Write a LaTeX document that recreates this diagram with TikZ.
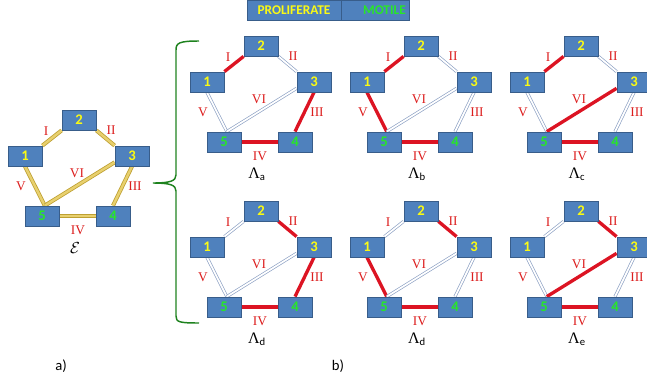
\documentclass[tikz,border=0pt]{standalone}
\usepackage{fontspec}
\setmainfont{Liberation Serif}
\setsansfont{Carlito}
\usetikzlibrary{positioning,backgrounds}
\definecolor{boxblue}{RGB}{79,129,189}
\definecolor{boxedge}{RGB}{56,93,138}
\definecolor{numyellow}{RGB}{250,250,20}
\definecolor{numgreen}{RGB}{40,230,40}
\definecolor{linkred}{RGB}{220,20,35}
\definecolor{linkgray}{RGB}{140,160,195}
\definecolor{goldedge}{RGB}{190,160,50}
\definecolor{goldfill}{RGB}{232,208,110}
\definecolor{numred}{RGB}{220,30,30}
\definecolor{bracegreen}{RGB}{30,130,30}
\tikzset{box/.style={rectangle,fill=boxblue,draw=boxedge,line width=.6pt,minimum width=25.5pt,minimum height=15pt,inner sep=0pt,font=\sffamily\bfseries\fontsize{11}{13}\selectfont},
         up node/.style={box,text=numyellow},
         low node/.style={box,text=numgreen},
         redlink/.style={draw=linkred,line width=2.5pt},
         bluelink/.style={draw=linkgray,line width=.5pt,double=white,double distance=1.3pt},
         goldlink/.style={draw=goldedge,line width=.6pt,double=goldfill,double distance=1.8pt},
         numeral/.style={text=numred,font=\fontsize{10}{11}\selectfont,inner sep=0pt},
         caption/.style={font=\fontsize{12}{13}\selectfont,inner sep=0pt},
         tag/.style={rectangle,fill=boxblue,draw=boxedge,line width=.6pt,minimum height=15pt,inner sep=0pt,font=\sffamily\bfseries\fontsize{10}{12}\selectfont},
            }
% #1 name, #2 place of node 2, #3-#8 links I-VI, #9 caption
\newcommand{\drawnet}[9]{%
  \begin{scope}[shift={#2}]
    \node[up node] (#1-2) at (0,0) {2};
    \node[up node] (#1-1) at (-54,36) {1};
    \node[up node] (#1-3) at (53,36) {3};
    \node[low node] (#1-5) at (-37,96) {5};
    \node[low node] (#1-4) at (34,96) {4};
    \begin{scope}[on background layer]
      \draw[#3] (#1-1.north east) -- (#1-2.south west);
      \draw[#4] (#1-2.south east) -- (#1-3.north west);
      \draw[#5] (#1-3.south) -- (#1-4.north);
      \draw[#6] (#1-4.west) -- (#1-5.east);
      \draw[#7] (#1-1.south) -- (#1-5.75);
      \draw[#8] (#1-5.75) -- (#1-3.200);
    \end{scope}
    \node[numeral] (#1-I) at (-33,11) {I};
    \node[numeral] (#1-II) at (32,10) {II};
    \node[numeral] (#1-III) at (56,66) {III};
    \node[numeral] (#1-IV) at (-1,110) {IV};
    \node[numeral] (#1-V) at (-58,66) {V};
    \node[numeral] (#1-VI) at (-2,53) {VI};
    \node[caption] (#1-cap) at (-4,128) {#9};
  \end{scope}}

\begin{document}
\begin{tikzpicture}[x=.75pt,y=-.75pt]
    \useasboundingbox (0,0) rectangle (647,379);

    \node[tag,text=numyellow,minimum width=70.5pt] (prolif) at (294,10) {PROLIFERATE};
    \node[tag,text=numgreen,minimum width=51pt,text width=45pt,align=right,right=0pt of prolif] (motile) {MOTILE};

    \drawnet{e}{(79,120)}{goldlink}{goldlink}{goldlink}{goldlink}{goldlink}{goldlink}{$\mathcal{E}$}

    \drawnet{a}{(261,46)}{redlink}{bluelink}{redlink}{redlink}{bluelink}{bluelink}{Λ\textsubscript{\sffamily a}}
    \drawnet{b}{(421,46)}{redlink}{bluelink}{bluelink}{redlink}{redlink}{bluelink}{Λ\textsubscript{\sffamily b}}
    \drawnet{c}{(581,46)}{redlink}{bluelink}{bluelink}{redlink}{bluelink}{redlink}{Λ\textsubscript{\sffamily c}}
    \drawnet{d}{(261,211)}{bluelink}{redlink}{redlink}{redlink}{bluelink}{bluelink}{Λ\textsubscript{\sffamily d}}
    \drawnet{f}{(421,211)}{bluelink}{redlink}{bluelink}{redlink}{redlink}{bluelink}{Λ\textsubscript{\sffamily d}}
    \drawnet{g}{(581,211)}{bluelink}{redlink}{bluelink}{redlink}{bluelink}{redlink}{Λ\textsubscript{\sffamily e}}

    % brace
    \draw[bracegreen,line width=1.1pt] (199,41) .. controls (179,41) and (176,43) .. (176,50) -- (176,175)
        .. controls (176,181) and (170,183) .. (153,183) .. controls (170,183) and (176,185) .. (176,191)
        -- (176,316) .. controls (176,322) and (179,323) .. (199,323);

    \node[caption,font=\sffamily\fontsize{11}{13}\selectfont] (parta) at (61,366) {a)};
    \node[caption,font=\sffamily\fontsize{11}{13}\selectfont] (partb) at (338,366) {b)};

\end{tikzpicture}
\end{document}
